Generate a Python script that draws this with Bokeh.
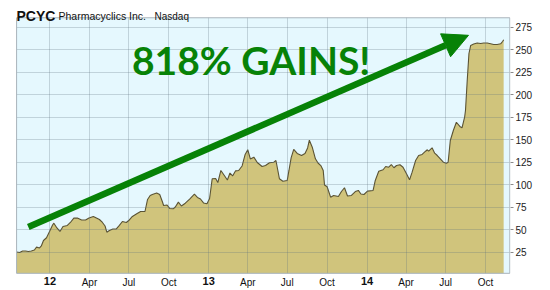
import pandas as pd
from bokeh.plotting import figure
from bokeh.models import (FixedTicker, Range1d, Label, ColumnDataSource, Arrow, NormalHead,
                          BoxAnnotation, DatetimeAxis, Grid)
from bokeh.embed import file_html
from bokeh.resources import INLINE

# ---------------- data ----------------
dates_2011 = ["2011-10-16", "2011-10-23", "2011-10-30", "2011-11-06", "2011-11-12", "2011-11-19",
              "2011-11-26", "2011-12-01", "2011-12-08", "2011-12-12", "2011-12-17", "2011-12-24",
              "2011-12-31"]
dates_2012 = ["2012-01-07", "2012-01-10", "2012-01-17", "2012-01-24", "2012-01-31", "2012-02-10",
              "2012-02-17", "2012-02-25", "2012-03-04", "2012-03-14", "2012-03-23", "2012-03-31",
              "2012-04-10", "2012-04-17", "2012-04-24", "2012-05-01", "2012-05-07", "2012-05-11",
              "2012-05-17", "2012-05-25", "2012-06-02", "2012-06-09", "2012-06-16", "2012-06-25",
              "2012-07-02", "2012-07-09", "2012-07-20", "2012-07-28", "2012-08-07", "2012-08-13",
              "2012-08-19", "2012-08-24", "2012-09-03", "2012-09-10", "2012-09-16", "2012-09-19",
              "2012-09-27", "2012-10-03", "2012-10-11", "2012-10-16", "2012-10-23", "2012-10-30",
              "2012-11-08", "2012-11-18", "2012-11-29", "2012-12-06", "2012-12-13", "2012-12-20",
              "2012-12-28"]
dates_2013 = ["2013-01-03", "2013-01-09", "2013-01-17", "2013-01-22", "2013-01-29", "2013-02-06",
              "2013-02-13", "2013-02-19", "2013-02-25", "2013-03-04", "2013-03-11", "2013-03-19",
              "2013-03-26", "2013-04-01", "2013-04-07", "2013-04-15", "2013-04-23", "2013-05-04",
              "2013-05-12", "2013-05-21", "2013-05-31", "2013-06-05", "2013-06-13", "2013-06-21",
              "2013-07-01", "2013-07-05", "2013-07-10", "2013-07-16", "2013-07-24", "2013-08-03",
              "2013-08-11", "2013-08-17", "2013-08-21", "2013-08-28", "2013-09-04", "2013-09-10",
              "2013-09-17", "2013-09-22", "2013-09-25", "2013-10-01", "2013-10-09", "2013-10-16",
              "2013-10-27", "2013-11-03", "2013-11-10", "2013-11-17", "2013-11-26", "2013-12-05",
              "2013-12-12", "2013-12-18", "2013-12-25"]
dates_2014 = ["2014-01-02", "2014-01-15", "2014-01-20", "2014-01-28", "2014-02-07", "2014-02-13",
              "2014-02-20", "2014-02-26", "2014-03-04", "2014-03-10", "2014-03-18", "2014-03-25",
              "2014-04-02", "2014-04-09", "2014-04-15", "2014-04-23", "2014-04-30", "2014-05-08",
              "2014-05-16", "2014-05-20", "2014-05-23", "2014-05-31", "2014-06-06", "2014-06-12",
              "2014-06-19", "2014-06-26", "2014-07-03", "2014-07-07", "2014-07-12", "2014-07-19",
              "2014-07-26", "2014-08-03", "2014-08-08", "2014-08-14", "2014-08-16", "2014-08-20",
              "2014-08-24", "2014-08-28", "2014-09-04", "2014-09-12", "2014-09-20", "2014-09-27",
              "2014-10-05", "2014-10-13", "2014-10-20", "2014-10-28", "2014-11-05", "2014-11-10",
              "2014-11-12"]
prices = [25.2, 24.7, 26.3, 26.3, 25.8, 26.3, 27.4, 30.6, 29.7, 31.9,
          38.0, 41.0, 48.0, 55.2, 57.2, 51.9, 48.0, 53.6, 54.7, 58.0,
          62.8, 63.0, 60.8, 60.8, 63.0, 64.7, 63.0, 61.3, 58.0, 54.1,
          47.2, 49.1, 50.8, 50.8, 54.7, 59.1, 58.0, 60.8, 64.7, 68.0,
          70.2, 70.2, 83.6, 88.0, 89.1, 90.8, 89.1, 81.3, 76.9, 77.4,
          73.6, 73.2, 75.2, 80.6, 76.3, 79.4, 83.9, 89.4, 85.8, 84.1,
          79.7, 78.8, 84.7, 106.6, 106.9, 102.4, 115.8, 110.2, 105.2, 113.0,
          109.7, 115.4, 115.8, 120.8, 133.6, 138.8, 128.6, 130.6, 124.7, 120.2,
          121.3, 124.3, 125.0, 126.9, 106.6, 103.9, 104.7, 115.8, 129.7, 139.3,
          134.7, 132.4, 134.7, 140.8, 149.4, 141.3, 128.8, 124.1, 120.8, 115.8,
          99.7, 97.7, 86.1, 88.0, 86.9, 92.4, 96.6, 87.4, 88.0, 92.4,
          93.6, 89.7, 89.1, 92.8, 93.6, 104.7, 115.0, 116.6, 120.2, 119.4,
          122.4, 118.8, 121.3, 122.1, 119.4, 112.1, 105.4, 113.9, 126.9, 132.4,
          133.6, 137.2, 138.8, 137.2, 141.0, 135.0, 132.4, 128.8, 125.0, 123.9,
          125.0, 149.1, 160.2, 169.4, 164.7, 163.2, 175.0, 182.4, 215.8, 245.8,
          254.7, 256.3, 257.4, 256.9, 257.4, 257.4, 256.6, 255.8, 255.8, 256.6,
          259.4, 261.0]

month_ticks = ["2012-04-01", "2012-07-01", "2012-10-01", "2013-04-01", "2013-07-01",
               "2013-10-01", "2014-04-01", "2014-07-01", "2014-10-01"]
month_labels = ["Apr", "Jul", "Oct", "Apr", "Jul", "Oct", "Apr", "Jul", "Oct"]
year_ticks = ["2012-01-01", "2013-01-01", "2014-01-01"]
year_labels = ["12", "13", "14"]
y_ticks = [25, 50, 75, 100, 125, 150, 175, 200, 225, 250, 275]

# plotting area (data units) and the whole visible window around it
area_x = ("2011-10-16", "2014-11-26 06:00")
area_y = (1.5, 285.5)
view_x = ("2011-10-13 12:00", "2014-11-27 19:00")
view_y = (-17.6, 304.7)

title_ticker, title_name, title_market = "PCYC", "Pharmacyclics Inc.", "Nasdaq"
headline = "818% GAINS!"
headline_at = ("2012-07-08", 239.0)
arrow_from = ("2011-11-12", 53.0)
arrow_to = ("2014-08-23", 266.0)

# ---------------- styles ----------------
BG = "#e5f8fe"
FILL = "#d0c47c"
LINE = "#5a5334"
GREEN = "#078207"
GRID = "#5b6e7c"
BORDER = "#a9b3bb"
FONT = "Liberation Sans"


def ms(s):
    return int(pd.Timestamp(s).value // 10**6)


dates = pd.to_datetime(dates_2011 + dates_2012 + dates_2013 + dates_2014)
src = ColumnDataSource(dict(x=dates, y=prices, base=[area_y[0]] * len(prices)))

p = figure(width=550, height=290, x_axis_type="datetime", y_axis_location="right",
           title=None, output_backend="svg", toolbar_location=None,
           x_range=Range1d(ms(view_x[0]), ms(view_x[1])), y_range=Range1d(*view_y),
           min_border_left=15, min_border_right=40, min_border_top=0, min_border_bottom=0)
p.background_fill_color = "white"
p.border_fill_color = "white"
p.outline_line_color = None

# plot area background
p.add_layout(BoxAnnotation(left=ms(area_x[0]), right=ms(area_x[1]), bottom=area_y[0], top=area_y[1],
                           fill_color=BG, fill_alpha=1, line_color=None, level="underlay"))

p.varea(x="x", y1="base", y2="y", source=src, fill_color=FILL)
p.line(x="x", y="y", source=src, line_color=LINE, line_width=1.1)

# grids (drawn over the area, limited to the plot area)
qt = FixedTicker(ticks=sorted(ms(d) for d in month_ticks + year_ticks))
yt = FixedTicker(ticks=y_ticks)
p.xgrid.ticker = qt
p.ygrid.ticker = yt
has_cross = "cross_bounds" in Grid.properties()
for g, cb in ((p.xgrid[0], area_y), (p.ygrid[0], (ms(area_x[0]), ms(area_x[1])))):
    g.grid_line_color = GRID
    g.grid_line_alpha = 0.27
    g.level = "guide"
    if has_cross:
        g.cross_bounds = cb
if not has_cross:
    for b, t in ((view_y[0], area_y[0]), (area_y[1], view_y[1])):
        p.add_layout(BoxAnnotation(bottom=b, top=t, fill_color="white", fill_alpha=1,
                                   line_color=None, level="guide"))

# plot area border
p.add_layout(BoxAnnotation(left=ms(area_x[0]), right=ms(area_x[1]), bottom=area_y[0], top=area_y[1],
                           fill_color=None, fill_alpha=0, line_color=BORDER, line_alpha=1,
                           line_width=1, level="guide"))

# x axes: months (regular) and years (bold), both on the bottom edge of the plot area
mx = p.xaxis[0]
mx.ticker = FixedTicker(ticks=[ms(d) for d in month_ticks])
mx.major_label_overrides = {ms(d): lab for d, lab in zip(month_ticks, month_labels)}
yx = DatetimeAxis(ticker=FixedTicker(ticks=[ms(d) for d in year_ticks]),
                  major_label_overrides={ms(d): lab for d, lab in zip(year_ticks, year_labels)})
p.add_layout(yx, "below")
for ax, size, style in ((mx, "10px", "normal"), (yx, "11px", "bold")):
    ax.fixed_location = area_y[0]
    ax.axis_line_color = None
    ax.major_tick_line_color = None
    ax.major_tick_out = 0
    ax.major_tick_in = 0
    ax.minor_tick_line_color = None
    ax.minor_tick_out = 0
    ax.major_label_standoff = 4
    ax.major_label_text_font = FONT
    ax.major_label_text_font_size = size
    ax.major_label_text_font_style = style
    ax.major_label_text_color = "#111111"

ya = p.yaxis[0]
ya.ticker = yt
ya.axis_line_color = None
ya.minor_tick_line_color = None
ya.major_tick_out = 3
ya.major_tick_in = 0
ya.major_tick_line_color = "#8a8a8a"
ya.major_label_standoff = 2
ya.major_label_text_font = FONT
ya.major_label_text_font_size = "10px"
ya.major_label_text_color = "#222222"

# title pieces (canvas pixels)
for txt, x, size, style in ((title_ticker, 16, "14px", "bold"),
                            (title_name, 58, "10.5px", "normal"),
                            (title_market, 154, "10px", "normal")):
    p.add_layout(Label(x=x, y=15.7, x_units="canvas", y_units="canvas", text=txt,
                       text_font=FONT, text_font_size=size, text_font_style=style,
                       text_color="#111111", text_baseline="alphabetic"))

# headline and arrow
p.add_layout(Arrow(x_start=ms(arrow_from[0]), y_start=arrow_from[1],
                   x_end=ms(arrow_to[0]), y_end=arrow_to[1],
                   line_color=GREEN, line_width=6.5,
                   end=NormalHead(size=25, fill_color=GREEN, line_color=GREEN, line_width=1)))
p.add_layout(Label(x=ms(headline_at[0]), y=headline_at[1], text=headline,
                   text_font="Lato", text_font_size="39px", text_font_style="bold",
                   text_color=GREEN, text_baseline="alphabetic"))

open("out.html", "w").write(file_html(p, INLINE))
